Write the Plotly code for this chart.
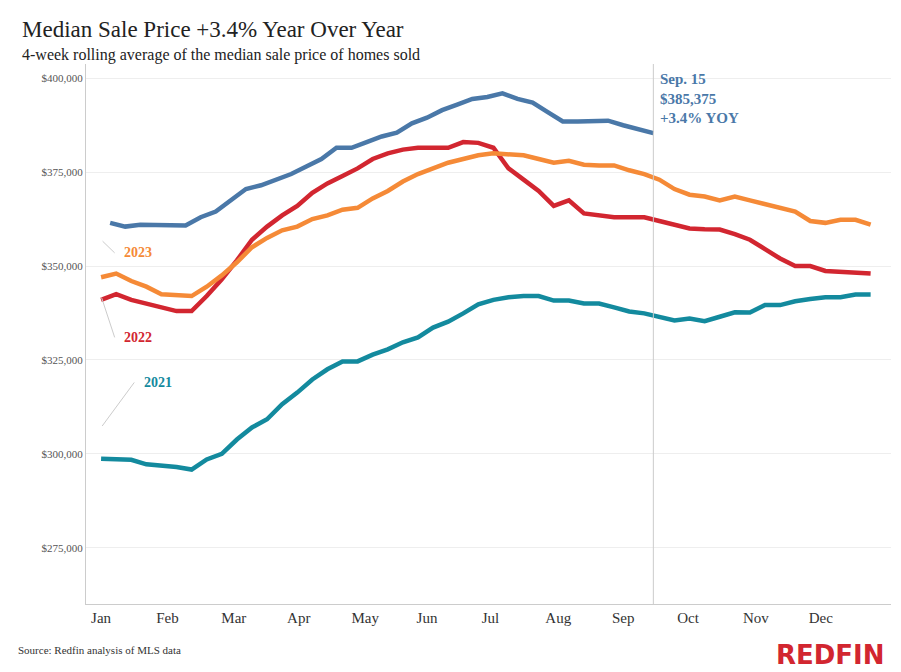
import plotly.graph_objects as go
import numpy as np

months = ["Jan","Feb","Mar","Apr","May","Jun","Jul","Aug","Sep","Oct","Nov","Dec"]
month_weeks = [1, 5.4, 9.8, 14.1, 18.5, 22.6, 26.8, 31.3, 35.6, 39.9, 44.4, 48.7]
y_ticks = [275000, 300000, 325000, 350000, 375000, 400000]

v2021 = [298.7,298.5,298.4,297.2,297.0,296.5,295.8,298.5,300,303.8,307,309.2,313.2,316.3,319.8,322.5,324.6,324.6,326.4,327.8,
         329.7,331,333.6,335.2,337.4,339.8,341,341.7,342,342,340.8,340.8,340,340,339,337.9,337.4,336.3,335.5,336,
         335.3,336.5,337.7,337.6,339.6,339.6,340.6,341.2,341.7,341.7,342.4,342.4]
v2022 = [341,342.5,341,340,339,338,338,342,346.5,351.5,357,360.5,363.5,366,369.5,372,374,376,378.5,380,
         381,381.5,381.5,381.5,383,382.8,381.5,376,373,370,366,367.5,364,363.5,363,363,363,362,361,360,
         359.8,359.7,358.5,357,354.5,352,350,350,348.7,348.5,348.2,348]
v2023 = [347,348,346,344.5,342.5,342.3,342,344.5,347.5,351,355,357.5,359.5,360.5,362.5,363.5,365,365.5,368,370,
         372.5,374.5,376,377.5,378.5,379.5,380,379.8,379.5,378.5,377.5,378,377,376.8,376.8,375.5,374.5,373,370.5,369,
         368.5,367.5,368.5,367.5,366.5,365.5,364.5,362,361.5,362.3,362.3,361]
v2024 = [361.5,360.5,361,361,360.8,360.8,363,364.5,367.5,370.5,371.5,373,374.5,376.5,378.5,381.5,381.5,383,384.5,385.5,
         388,389.5,391.5,393,394.5,395,396,394.5,393.5,391,388.5,388.5,388.5,388.7,387.5,386.5,385.375]
weeks_full = np.arange(1, 53)
weeks_2024 = np.arange(len(v2024)) + 1.6

colors = {"2021": "#138a9e", "2022": "#d22630", "2023": "#f58a37", "2024": "#4a78a8"}
fig = go.Figure()
for name, vals, xs in [("2021", v2021, weeks_full), ("2022", v2022, weeks_full),
                       ("2023", v2023, weeks_full), ("2024", v2024, weeks_2024)]:
    fig.add_trace(go.Scatter(x=xs, y=np.array(vals) * 1000, mode="lines",
                             line=dict(color=colors[name], width=4.5), hoverinfo="skip"))

fig.add_shape(type="line", x0=weeks_2024[-1], x1=weeks_2024[-1], y0=0, y1=1, yref="paper",
              line=dict(color="#cccccc", width=1))

serif = "Liberation Serif"
fig.add_annotation(x=weeks_2024[-1] + 0.3, y=v2024[-1] * 1000 + 1500, xanchor="left", yanchor="bottom",
                   text="<b>Sep. 15<br>$385,375<br>+3.4% YOY</b>", showarrow=False, align="left",
                   font=dict(family=serif, size=15, color=colors["2024"]))
labels = [("2023", 2.4, 353500, 1.0, 357000), ("2022", 2.4, 331000, 1.0, 342000), ("2021", 3.7, 319000, 1.0, 307000)]
for name, lx, ly, ax_, ay_ in labels:
    fig.add_annotation(x=lx, y=ly, text="<b>%s</b>" % name, showarrow=False, xanchor="left",
                       font=dict(family=serif, size=14, color=colors[name]))
    fig.add_annotation(x=lx - 0.5, y=ly, ax=ax_, ay=ay_, axref="x", ayref="y", text="",
                       showarrow=True, arrowhead=0, arrowwidth=1, arrowcolor="#cccccc")

fig.update_layout(
    width=901, height=672, plot_bgcolor="white", paper_bgcolor="white", showlegend=False,
    margin=dict(l=78, r=18, t=56, b=76),
    font=dict(family=serif),
)
fig.add_annotation(x=-0.082, y=1.09, xref="paper", yref="paper", xanchor="left", yanchor="top",
                   text="Median Sale Price +3.4% Year Over Year", showarrow=False,
                   font=dict(family=serif, size=23, color="#222"))
fig.add_annotation(x=-0.082, y=1.037, xref="paper", yref="paper", xanchor="left", yanchor="top",
                   text="4-week rolling average of the median sale price of homes sold", showarrow=False,
                   font=dict(family=serif, size=16, color="#222"))
fig.update_xaxes(range=[0.0, 53.35], tickvals=month_weeks, ticktext=months, showgrid=False,
                 showline=True, linecolor="#cccccc", tickfont=dict(size=15, color="#333"), ticks="")
fig.update_yaxes(range=[260000, 403800], tickvals=y_ticks, tickformat="$,.0f", showgrid=True,
                 gridcolor="#eeeeee", showline=True, linecolor="#cccccc", zeroline=False,
                 tickfont=dict(size=11, color="#555"))
fig.add_annotation(x=-0.087, y=-0.085, xref="paper", yref="paper", xanchor="left", yanchor="middle",
                   text="Source: Redfin analysis of MLS data", showarrow=False,
                   font=dict(family=serif, size=11, color="#333"))
fig.add_annotation(x=0.995, y=-0.095, xref="paper", yref="paper", xanchor="right", yanchor="middle",
                   text="<b>REDFIN</b>", showarrow=False,
                   font=dict(family="DejaVu Sans", size=26, color="#d22630"))
fig.write_html("out.html")
